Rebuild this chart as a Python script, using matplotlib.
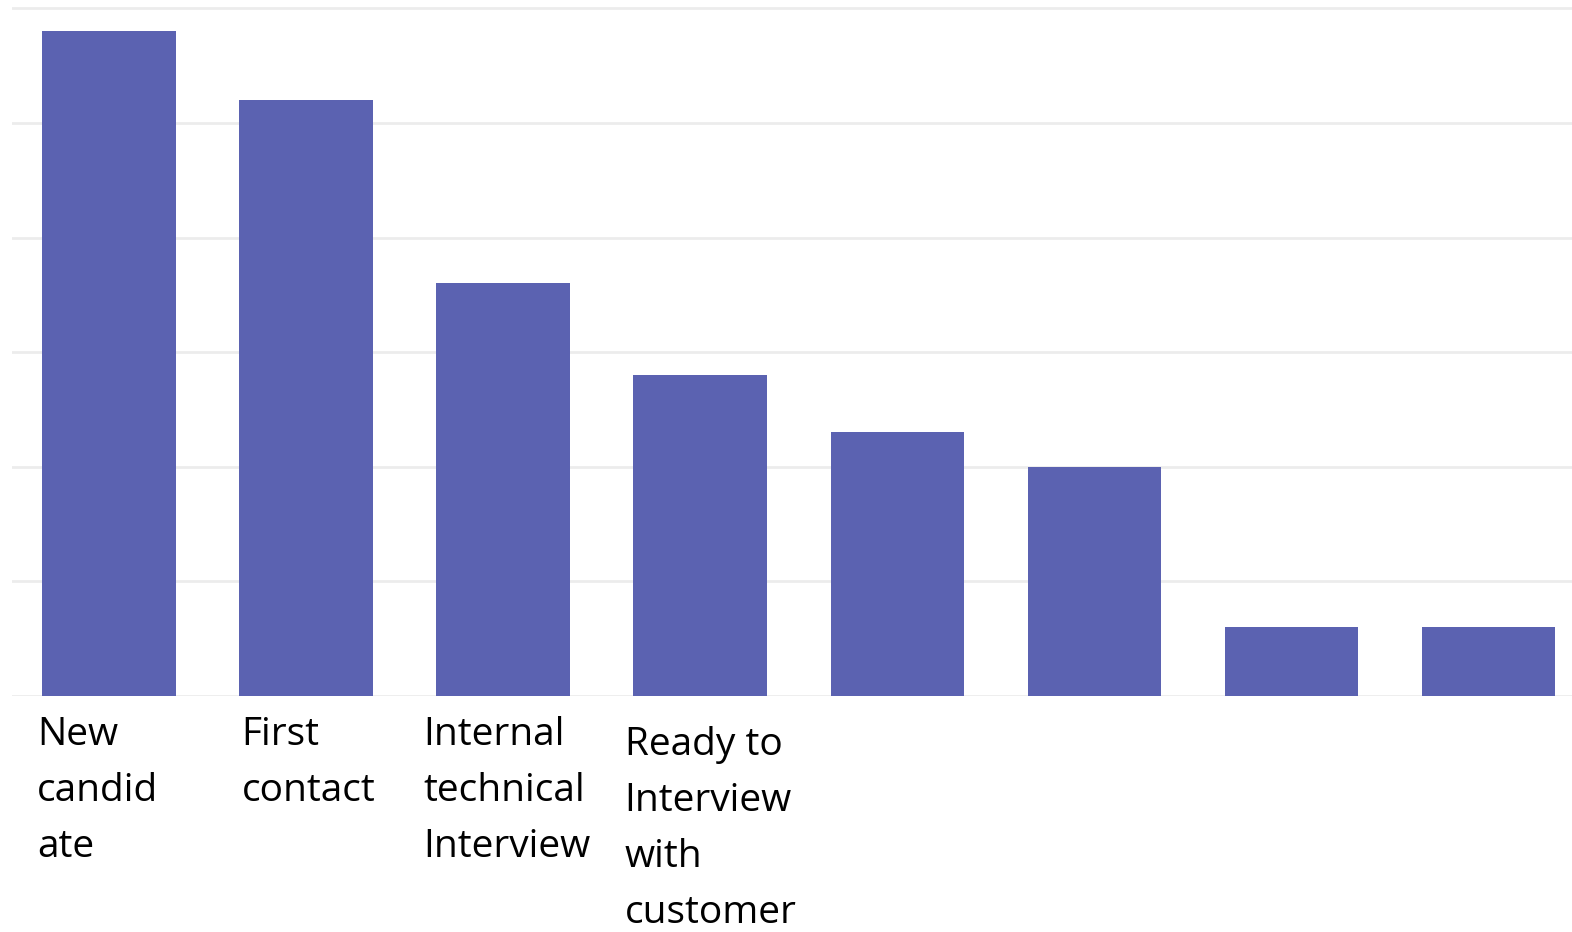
#
# plot.py
#   - Candidates per recruiting stage, plain bar chart.
#

import matplotlib
matplotlib.use("Agg")
import matplotlib.pyplot as plt
import matplotlib.transforms as mtransforms

stages = ["New\ncandid\nate", "First\ncontact", "Internal\ntechnical\nInterview",
          "Ready to\nInterview\nwith\ncustomer", "", "", "", ""]
counts = [29, 26, 18, 14, 11.5, 10, 3, 3]
grid_ticks = [0, 5, 10, 15, 20, 25, 30]

BAR_COLOR = "#5b62b1"
GRID_COLOR = "#ececec"


def main():
    fig = plt.figure(figsize=(15.72, 9.32), dpi=100)
    W, H = 1572.0, 932.0
    # axes: left 12px, baseline at 696px, up to top edge
    ax = fig.add_axes([12 / W, (H - 696) / H, 1 - 12 / W, 696 / H])

    indx = list(range(len(counts)))
    ax.bar(indx, counts, width=0.677, color=BAR_COLOR, zorder=3)

    ax.set_xlim(-0.492, 7.424)
    ax.set_ylim(0, 696 / 22.92)
    ax.set_yticks(grid_ticks)
    ax.set_xticks([])
    ax.tick_params(left=False, labelleft=False)
    ax.grid(axis="y", color=GRID_COLOR, linewidth=2, zorder=0)
    ax.set_axisbelow(True)
    for s in ax.spines.values():
        s.set_visible(False)

    # category labels, left aligned under the bars
    # first-line baselines in pixels from the top; 56px between lines
    trans = mtransforms.blended_transform_factory(ax.transData, fig.dpi_scale_trans)
    x_offsets = [-0.365, -0.327, -0.403, -0.383, 0, 0, 0, 0]
    first_base = [745, 745, 745, 755, 0, 0, 0, 0]
    line_px = 56
    for i, label in enumerate(stages):
        if not label:
            continue
        n = label.count("\n")
        y_last = first_base[i] + n * line_px
        ax.text(i + x_offsets[i], (H - y_last) / 100.0, label,
                transform=trans, ha="left", va="baseline",
                fontsize=28, family="Open Sans", linespacing=1.615,
                color="black", clip_on=False)

    fig.savefig("out.png", dpi=100)


if __name__ == '__main__':
    main()
